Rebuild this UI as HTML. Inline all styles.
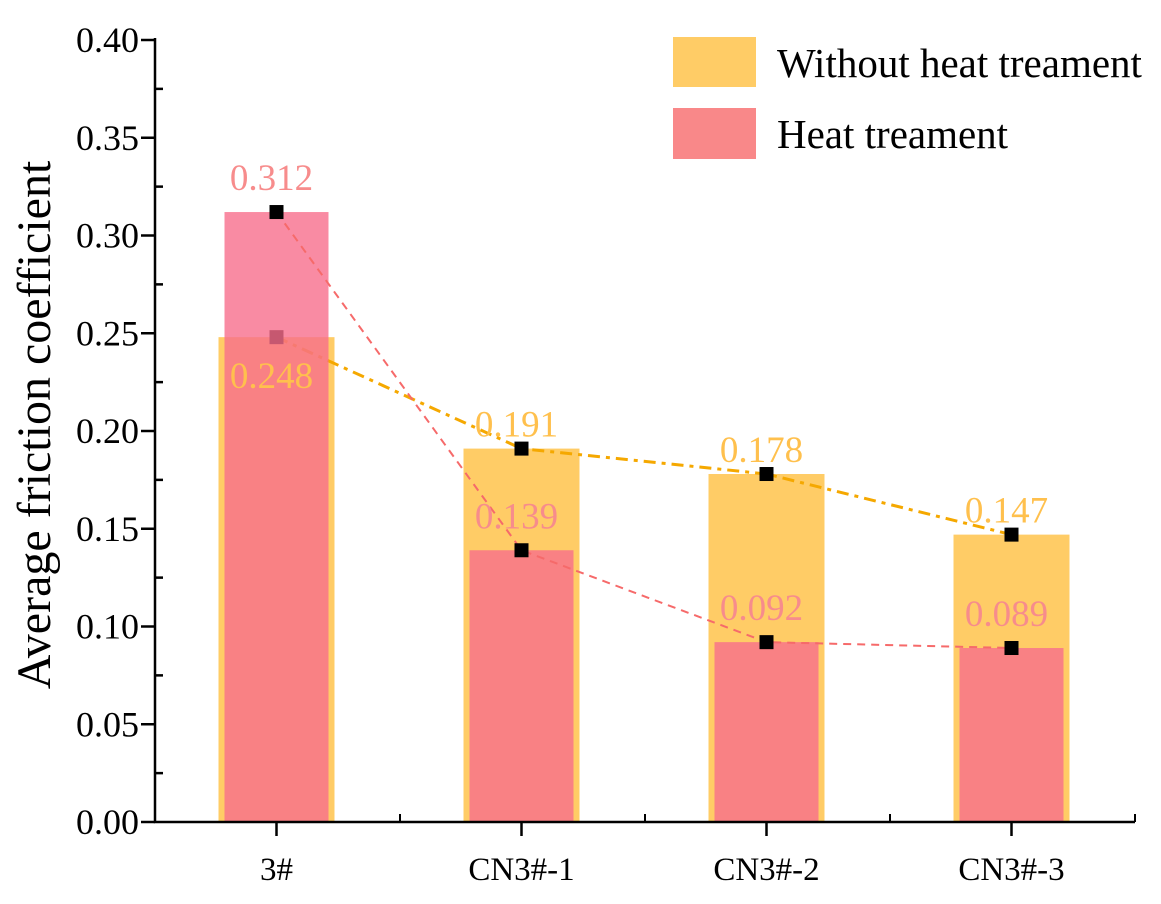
<!DOCTYPE html>
<html><head><meta charset="utf-8"><style>
html,body{margin:0;padding:0;background:#fff;}
svg{display:block;font-family:"Liberation Serif",serif;}
</style></head><body>
<svg id="chart" width="1161" height="904" viewBox="0 0 1161 904">
<g id="bars-y"></g><g id="line-y"></g><g id="bars-r"></g><g id="line-r"></g><g id="marks"></g><g id="labels"></g><g id="axes"></g>
<text transform="translate(50,425) rotate(-90)" text-anchor="middle" font-size="48">Average friction coefficient</text>
<g>
<rect x="673" y="37" width="83" height="50" fill="#FFCC66"/>
<text x="777" y="77" font-size="41">Without heat treament</text>
<rect x="673" y="108" width="83" height="51" fill="#F98889"/>
<text x="777" y="148" font-size="41">Heat treament</text>
</g>
</svg>
<script>
const categories=["3#","CN3#-1","CN3#-2","CN3#-3"];
const withoutVals=[0.248,0.191,0.178,0.147];
const heatVals=[0.312,0.139,0.092,0.089];
const yTicks=[0,0.05,0.10,0.15,0.20,0.25,0.30,0.35,0.40];
const NS="http://www.w3.org/2000/svg";
const x0=155,x1=1135,y0=822,yTop=40,yMax=0.4;
const step=(x1-x0)/4;
function xS(i){return x0+step*(i+0.5)-1;}
function yS(v){return y0-(v/yMax)*(y0-yTop);}
function mk(tag,attrs,parent){const e=document.createElementNS(NS,tag);for(const k in attrs)e.setAttribute(k,attrs[k]);document.getElementById(parent).appendChild(e);return e;}
categories.forEach((c,i)=>{
 const b=mk('rect',{x:xS(i)-58,y:yS(withoutVals[i]),width:116,height:y0-yS(withoutVals[i]),fill:'#FFCC66'},'bars-y');
 
 
 const r=mk('rect',{x:xS(i)-52,y:yS(heatVals[i]),width:104,height:y0-yS(heatVals[i]),fill:'rgba(248,110,140,0.8)'},'bars-r');
 
 
});
function path(vals){return vals.map((v,i)=>(i?'L':'M')+xS(i)+','+yS(v)).join(' ');}
const ly=mk('path',{d:path(withoutVals),fill:'none',stroke:'#F5A800','stroke-width':3,'stroke-dasharray':'12 6 4 6'},'line-y');


const lr=mk('path',{d:path(heatVals),fill:'none',stroke:'#F66A6A','stroke-width':2,'stroke-dasharray':'8 6'},'line-r');


categories.forEach((c,i)=>{
 const p=mk('rect',{x:xS(i)-7,y:yS(withoutVals[i])-7,width:14,height:14,fill:'#000'},i===0?'line-y':'marks');
 
 
 const q=mk('rect',{x:xS(i)-7,y:yS(heatVals[i])-7,width:14,height:14,fill:'#000'},'marks');
 
 
 const ty=mk('text',{x:xS(i)-5,y:i===0?yS(withoutVals[i])+51:yS(withoutVals[i])-12,'text-anchor':'middle','font-size':37,fill:'#FFC04D'},'labels');
 ty.textContent=withoutVals[i].toFixed(3);
 
 
 const tr=mk('text',{x:xS(i)-5,y:yS(heatVals[i])-22,'text-anchor':'middle','font-size':37,fill:'#F78C8C'},'labels');
 tr.textContent=heatVals[i].toFixed(3);
 
 
 const xt=mk('line',{x1:xS(i),y1:y0,x2:xS(i),y2:y0+14,stroke:'#000','stroke-width':2.5},'axes');
 
 
 const xm=mk('line',{x1:x0+step*(i+1),y1:y0,x2:x0+step*(i+1),y2:y0-8,stroke:'#000','stroke-width':2},'axes');
 
 
 const xl=mk('text',{x:xS(i),y:y0+58,'text-anchor':'middle','font-size':33},'axes');
 xl.textContent=c;
 
 
});
yTicks.forEach((v,i)=>{
 const t=mk('line',{x1:x0-14,y1:yS(v),x2:x0,y2:yS(v),stroke:'#000','stroke-width':2.5},'axes');
 
 
 if(i<yTicks.length-1){
  const m=mk('line',{x1:x0,y1:yS(v+0.025),x2:x0+8,y2:yS(v+0.025),stroke:'#000','stroke-width':2.5},'axes');
  
  
 }
 const l=mk('text',{x:x0-16,y:yS(v)+12,'text-anchor':'end','font-size':36},'axes');
 l.textContent=v.toFixed(2);
 
 
});
const ax=mk('path',{d:`M${x0},${yTop-2} L${x0},${y0} L${x1},${y0}`,fill:'none',stroke:'#000','stroke-width':2.5},'axes');


</script>
</body></html>
